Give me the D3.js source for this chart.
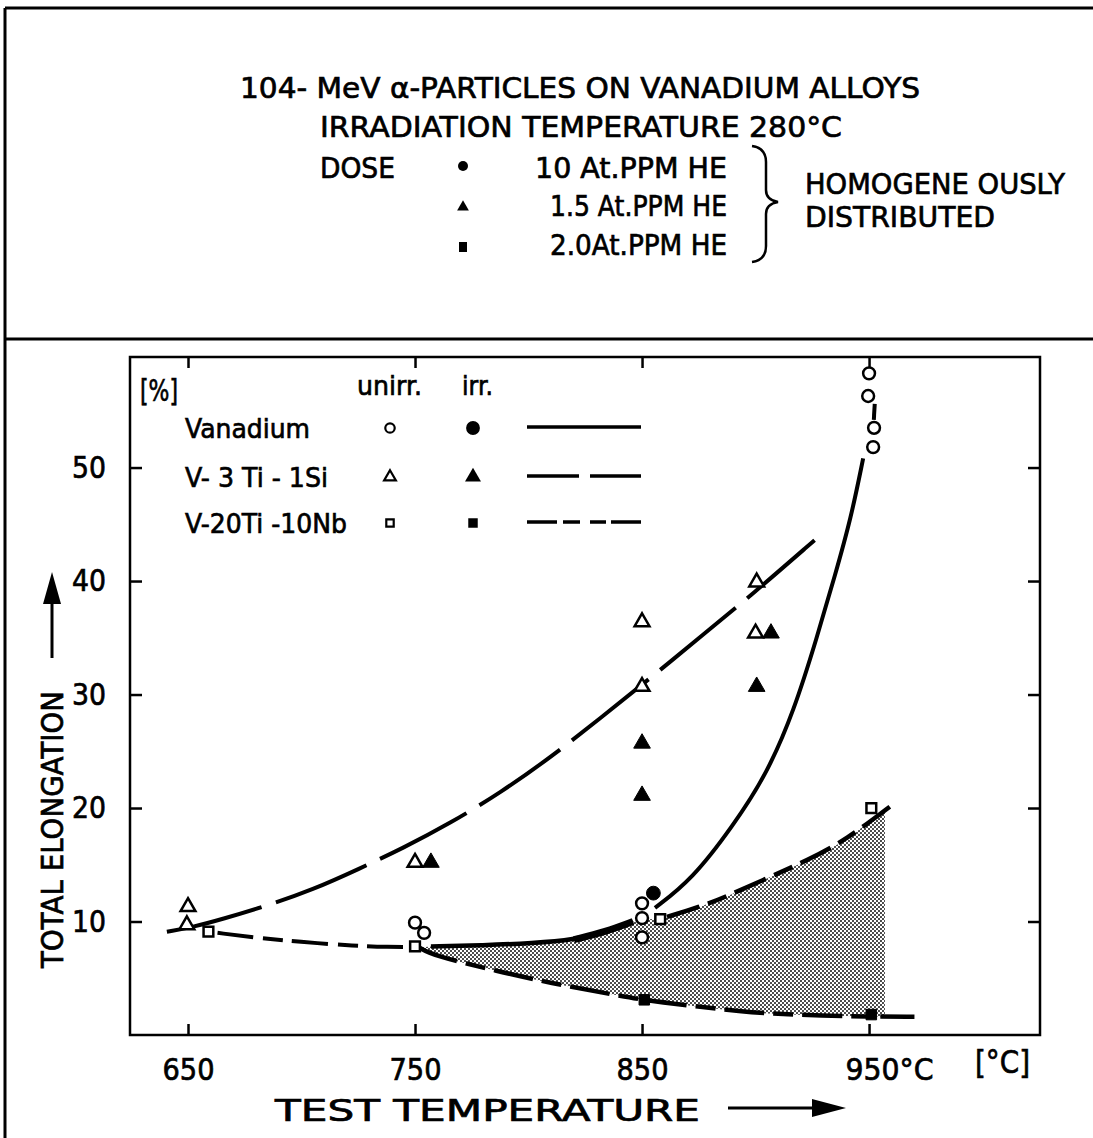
<!DOCTYPE html>
<html>
<head>
<meta charset="utf-8">
<script src="https://cdn.jsdelivr.net/npm/d3@7"></script>
<style>
  body { margin: 0; background: #fff; }
  text { font-family: "DejaVu Sans", sans-serif; fill: #000; stroke: #000; stroke-width: 0.7px; }
</style>
</head>
<body>
<div id="chart"></div>
<script>
(function() {

    var w = 1093;
    var h = 1138;

    // tick values
    var xTicks = [650, 750, 850, 950];
    var yTicks = [10, 20, 30, 40, 50];

    // measured points [temperature °C, elongation %]
    var vanadiumUnirr = [[750, 9.9], [754, 9.0], [850, 11.6], [850, 10.3], [850, 8.6],
                         [950, 58.3], [949.6, 56.3], [952.2, 53.5], [951.8, 51.8]];
    var vanadiumIrr = [[855, 12.5]];
    var v3TiUnirr = [[650, 11.3], [649.5, 9.7], [750, 15.2], [850, 36.4], [850, 30.7], [900.5, 39.9], [900, 35.4]];
    var v3TiIrr = [[757, 15.2], [850, 25.7], [850, 21.1], [906.8, 35.4], [900.5, 30.7]];
    var v20TiUnirr = [[659, 9.1], [750, 7.8], [858, 10.2], [951, 20.0]];
    var v20TiIrr = [[851, 3.1], [951, 1.8]];

    // drawn curves
    var vanadiumLow = [[757, 7.8], [780, 7.9], [802, 8.1], [820, 8.4], [834, 9.1], [846, 10.0]];
    var vanadiumHigh = [[855.7, 11.2], [872, 13.7], [890, 18.4], [905, 23.0], [917, 28.6],
                        [927, 35.0], [935, 40.5], [942, 45.5], [947.4, 50.8]];
    var vanadiumTop = [[952.5, 55.6], [952.1, 54.2]];
    var v3TiCurve = [[640.7, 9.1], [652, 9.5], [665, 10.2], [685, 11.4], [705, 12.8], [725, 14.6],
                     [745, 16.5], [765, 18.6], [788, 21.4], [810, 24.5], [831.5, 27.9], [854, 31.5],
                     [877, 35.3], [899, 38.9], [926, 43.6]];
    var v20TiLeft = [[663, 9.0], [679, 8.6], [699, 8.2], [724, 7.85], [738, 7.75], [750, 7.75]];
    var v20TiUpper = [[861, 10.4], [875.5, 11.3], [886, 12.1], [905, 13.8], [923, 15.4], [940, 17.2], [961, 20.4]];
    var v20TiLower = [[752, 7.7], [758, 7.0], [787, 5.6], [809, 4.6], [839, 3.5], [850, 3.1], [875, 2.5],
                      [898, 1.95], [923, 1.75], [950, 1.62], [970, 1.6]];
    var shadeEdge = [[957, 19.9], [957, 1.62]];

    var svg = d3.select("#chart")
        .append("svg")
        .attr("width", w)
        .attr("height", h);

    var defs = svg.append("defs");
    var pat = defs.append("pattern")
        .attr("id", "dots")
        .attr("width", 4)
        .attr("height", 4)
        .attr("patternUnits", "userSpaceOnUse");
    pat.append("circle").attr("cx", 1).attr("cy", 1).attr("r", 0.95).attr("fill", "#000");
    pat.append("circle").attr("cx", 3).attr("cy", 3).attr("r", 0.95).attr("fill", "#000");

    // outer frame
    svg.append("line").attr("x1", 5).attr("y1", 8).attr("x2", w).attr("y2", 8)
        .attr("stroke", "#000").attr("stroke-width", 3);
    svg.append("line").attr("x1", 5).attr("y1", 8).attr("x2", 5).attr("y2", h)
        .attr("stroke", "#000").attr("stroke-width", 3);
    svg.append("line").attr("x1", 5).attr("y1", 339).attr("x2", w).attr("y2", 339)
        .attr("stroke", "#000").attr("stroke-width", 3);

    // helper for squeezed text
    function label(g, str, x, y, len, size, anchor) {
        var t = g.append("text")
            .attr("x", x)
            .attr("y", y)
            .attr("font-size", size)
            .text(str);
        if (len) {
            t.attr("textLength", len).attr("lengthAdjust", "spacingAndGlyphs");
        }
        if (anchor) {
            t.attr("text-anchor", anchor);
        }
        return t;
    }

    // header
    var head = svg.append("g");
    label(head, "104- MeV \u03B1-PARTICLES ON VANADIUM ALLOYS", 240, 98, 680, 29);
    label(head, "IRRADIATION  TEMPERATURE  280\u00B0C", 320, 137, 522, 29);
    label(head, "DOSE", 320, 178, 75, 29);
    label(head, "10  At.PPM HE", 535, 178, 192, 29);
    label(head, "1.5 At.PPM HE", 550, 216, 177, 29);
    label(head, "2.0At.PPM HE", 550, 255, 177, 29);
    label(head, "HOMOGENE OUSLY", 805, 194, 260, 29);
    label(head, "DISTRIBUTED", 805, 227, 190, 29);
    head.append("circle").attr("cx", 463).attr("cy", 166).attr("r", 5);
    head.append("path").attr("d", d3.symbol().type(d3.symbolTriangle).size(60)())
        .attr("transform", "translate(463,207)");
    head.append("rect").attr("x", 459).attr("y", 242).attr("width", 8).attr("height", 10);
    head.append("path")
        .attr("d", "M752,146 Q766,148 766,162 L766,190 Q766,200 778,202 Q766,204 766,214 L766,246 Q766,260 752,262")
        .attr("fill", "none").attr("stroke", "#000").attr("stroke-width", 2.5);

    // scales
    var x = d3.scaleLinear().domain([624.45, 1025.3]).range([130, 1040]);
    var y = d3.scaleLinear().domain([0, 59.74]).range([1035, 357]);

    var plot = svg.append("g");

    // shaded band
    var shadePts = vanadiumLow.concat(v20TiUpper.filter(function(d) { return d[0] < 957; }))
        .concat(shadeEdge)
        .concat(v20TiLower.filter(function(d) { return d[0] < 957; }).reverse());
    plot.append("path")
        .attr("d", d3.line().x(function(d) { return x(d[0]); }).y(function(d) { return y(d[1]); })(shadePts) + "Z")
        .attr("fill", "url(#dots)");

    // axes frame
    plot.append("rect")
        .attr("x", x.range()[0]).attr("y", y.range()[1])
        .attr("width", x.range()[1] - x.range()[0])
        .attr("height", y.range()[0] - y.range()[1])
        .attr("fill", "none").attr("stroke", "#000").attr("stroke-width", 2.5);

    var xAxis = plot.append("g")
        .attr("transform", "translate(0," + y.range()[0] + ")")
        .call(d3.axisBottom(x).tickValues(xTicks).tickSizeInner(-11).tickSizeOuter(0).tickPadding(24)
            .tickFormat(function(d) { return d === 950 ? "950\u00B0C" : d; }));
    xAxis.select(".domain").remove();
    xAxis.selectAll("line").attr("stroke-width", 2.5);
    xAxis.selectAll("text").attr("font-size", 30).attr("font-family", "DejaVu Sans")
        .attr("textLength", function(d) { return d === 950 ? 88 : 52; })
        .attr("lengthAdjust", "spacingAndGlyphs")
        .attr("text-anchor", function(d) { return d === 950 ? "start" : "middle"; })
        .attr("dx", function(d) { return d === 950 ? -24 : 0; });

    var xTop = plot.append("g")
        .attr("transform", "translate(0," + y.range()[1] + ")")
        .call(d3.axisTop(x).tickValues(xTicks).tickSizeInner(-11).tickSizeOuter(0).tickFormat(""));
    xTop.select(".domain").remove();
    xTop.selectAll("line").attr("stroke-width", 2.5);

    var yAxis = plot.append("g")
        .attr("transform", "translate(" + x.range()[0] + ",0)")
        .call(d3.axisLeft(y).tickValues(yTicks).tickSizeInner(-12).tickSizeOuter(0).tickPadding(24));
    yAxis.select(".domain").remove();
    yAxis.selectAll("line").attr("stroke-width", 2.5);
    yAxis.selectAll("text").attr("font-size", 30).attr("font-family", "DejaVu Sans")
        .attr("textLength", 34).attr("lengthAdjust", "spacingAndGlyphs");

    var yRight = plot.append("g")
        .attr("transform", "translate(" + x.range()[1] + ",0)")
        .call(d3.axisRight(y).tickValues(yTicks).tickSizeInner(-12).tickSizeOuter(0).tickFormat(""));
    yRight.select(".domain").remove();
    yRight.selectAll("line").attr("stroke-width", 2.5);

    // units and titles
    label(plot, "[%]", 140, 401, 38, 31);
    label(plot, "[\u00B0C]", 975, 1073, 55, 32);
    label(plot, "TEST  TEMPERATURE", 275, 1121, 425, 30);
    plot.append("line").attr("x1", 728).attr("y1", 1108).attr("x2", 815).attr("y2", 1108)
        .attr("stroke", "#000").attr("stroke-width", 3);
    plot.append("path").attr("d", "M812,1099 L846,1108 L812,1117 Z");

    label(plot, "TOTAL  ELONGATION", 0, 0, 277, 30)
        .attr("transform", "translate(63,968) rotate(-90)");
    plot.append("line").attr("x1", 52).attr("y1", 658).attr("x2", 52).attr("y2", 600)
        .attr("stroke", "#000").attr("stroke-width", 3);
    plot.append("path").attr("d", "M43,604 L52,572 L61,604 Z");

    // curves
    var line = d3.line()
        .x(function(d) { return x(d[0]); })
        .y(function(d) { return y(d[1]); })
        .curve(d3.curveBasis);
    var straight = d3.line()
        .x(function(d) { return x(d[0]); })
        .y(function(d) { return y(d[1]); });

    function curve(data, dash, sw, gen) {
        var p = plot.append("path")
            .attr("d", (gen || line)(data))
            .attr("fill", "none")
            .attr("stroke", "#000")
            .attr("stroke-width", sw)
            .attr("stroke-linecap", "butt");
        if (dash) {
            p.attr("stroke-dasharray", dash);
        }
        return p;
    }

    curve(vanadiumLow, null, 4.5);
    curve(vanadiumLow.slice(3), null, 7);
    curve(vanadiumHigh, null, 4);
    curve(vanadiumTop, null, 4, straight);
    curve(v3TiCurve, "98,15", 4);
    curve(v20TiLeft, "36,10,20,9", 4);
    curve(v20TiUpper, "34,9,20,9", 4.5);
    curve(v20TiLower, "40,9,20,9", 4.5);

    // markers
    var circ = d3.symbol().type(d3.symbolCircle).size(110);
    var tri = d3.symbol().type(d3.symbolTriangle).size(95);
    var sq = d3.symbol().type(d3.symbolSquare).size(95);

    function markers(data, gen, filled) {
        plot.selectAll(null)
            .data(data)
            .enter()
            .append("path")
            .attr("d", gen())
            .attr("transform", function(d) { return "translate(" + x(d[0]) + "," + y(d[1]) + ")"; })
            .attr("fill", filled ? "#000" : "#fff")
            .attr("stroke", "#000")
            .attr("stroke-width", filled ? 1 : 2.5);
    }

    markers(vanadiumUnirr, circ, false);
    markers(vanadiumIrr, d3.symbol().type(d3.symbolCircle).size(150), true);
    markers(v3TiUnirr, tri, false);
    markers(v3TiIrr, d3.symbol().type(d3.symbolTriangle).size(120), true);
    markers(v20TiUnirr, sq, false);
    markers(v20TiIrr, d3.symbol().type(d3.symbolSquare).size(110), true);

    // legend
    var leg = plot.append("g");
    label(leg, "unirr.", 357, 395, 65, 27);
    label(leg, "irr.", 462, 395, 31, 27);
    var legRows = ["Vanadium", "V- 3 Ti - 1Si", "V-20Ti -10Nb"];
    var legWidths = [125, 143, 162];
    var legY = [428, 477, 523];
    var legDash = [null, "52,11", "30,6,17,10,16,5"];
    var legOpen = [d3.symbol().type(d3.symbolCircle).size(70), d3.symbol().type(d3.symbolTriangle).size(60), d3.symbol().type(d3.symbolSquare).size(55)];
    var legFill = [d3.symbol().type(d3.symbolCircle).size(150), d3.symbol().type(d3.symbolTriangle).size(110), d3.symbol().type(d3.symbolSquare).size(90)];

    legRows.forEach(function(name, i) {
        label(leg, name, 185, legY[i] + 10, legWidths[i], 27);
        leg.append("path").attr("d", legOpen[i]())
            .attr("transform", "translate(390," + legY[i] + ")")
            .attr("fill", "#fff").attr("stroke", "#000").attr("stroke-width", 2.2);
        leg.append("path").attr("d", legFill[i]())
            .attr("transform", "translate(473," + legY[i] + ")");
        var l = leg.append("line")
            .attr("x1", 527).attr("x2", 641)
            .attr("y1", legY[i] - 1).attr("y2", legY[i] - 1)
            .attr("stroke", "#000").attr("stroke-width", 3.5);
        if (legDash[i]) {
            l.attr("stroke-dasharray", legDash[i]);
        }
    });

})();
</script>
</body>
</html>
